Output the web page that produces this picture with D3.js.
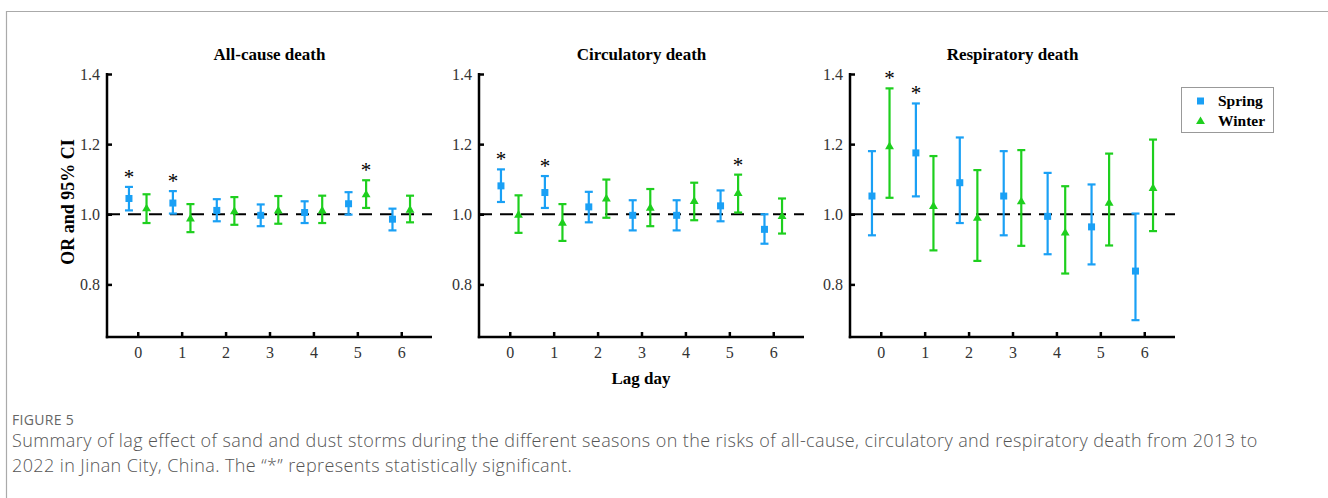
<!DOCTYPE html>
<html>
<head>
<meta charset="utf-8">
<script src="https://cdn.jsdelivr.net/npm/d3@7"></script>
<style>
  body { margin: 0; background: #fff; }
  svg { display: block; }
</style>
</head>
<body>
<script>
"use strict";

// lag days and panel titles
var lags = [0, 1, 2, 3, 4, 5, 6];
var panelTitles = ["All-cause death", "Circulatory death", "Respiratory death"];
var yTicks = [0.8, 1.0, 1.2, 1.4];

// OR, lower and upper 95% CI
var allSpringOR = [1.045, 1.032, 1.011, 0.997, 1.005, 1.030, 0.986];
var allSpringLo = [1.011, 1.002, 0.980, 0.966, 0.975, 0.999, 0.954];
var allSpringHi = [1.078, 1.066, 1.043, 1.028, 1.037, 1.063, 1.016];
var allWinterOR = [1.017, 0.988, 1.009, 1.011, 1.011, 1.057, 1.013];
var allWinterLo = [0.975, 0.949, 0.970, 0.973, 0.975, 1.018, 0.977];
var allWinterHi = [1.057, 1.029, 1.049, 1.052, 1.053, 1.097, 1.053];

var cirSpringOR = [1.081, 1.062, 1.021, 0.997, 0.997, 1.024, 0.957];
var cirSpringLo = [1.035, 1.018, 0.977, 0.954, 0.954, 0.980, 0.916];
var cirSpringHi = [1.128, 1.109, 1.064, 1.040, 1.040, 1.068, 1.000];
var cirWinterOR = [0.999, 0.976, 1.045, 1.019, 1.038, 1.061, 0.995];
var cirWinterLo = [0.947, 0.924, 0.990, 0.966, 0.983, 1.005, 0.945];
var cirWinterHi = [1.054, 1.029, 1.099, 1.072, 1.090, 1.113, 1.045];

var resSpringOR = [1.052, 1.175, 1.090, 1.052, 0.994, 0.964, 0.838];
var resSpringLo = [0.940, 1.051, 0.975, 0.940, 0.886, 0.857, 0.698];
var resSpringHi = [1.180, 1.316, 1.219, 1.180, 1.118, 1.085, 1.002];
var resWinterOR = [1.194, 1.024, 0.990, 1.037, 0.948, 1.033, 1.075];
var resWinterLo = [1.047, 0.897, 0.867, 0.910, 0.831, 0.911, 0.952];
var resWinterHi = [1.359, 1.166, 1.126, 1.183, 1.080, 1.173, 1.213];

// significant lags (marked with *)
var allSpringSig = [0, 1], allWinterSig = [5];
var cirSpringSig = [0, 1], cirWinterSig = [5];
var resSpringSig = [1], resWinterSig = [0];

var seriesNames = ["Spring", "Winter"];
var colors = {Spring: "#1aa0f5", Winter: "#1ecf1e"};

function rows(or, lo, hi, sig) {
  return lags.map(function(d, i) {
    return {lag: d, or: or[i], lo: lo[i], hi: hi[i], sig: sig.indexOf(d) >= 0};
  });
}

var panels = [
  {spring: rows(allSpringOR, allSpringLo, allSpringHi, allSpringSig),
   winter: rows(allWinterOR, allWinterLo, allWinterHi, allWinterSig)},
  {spring: rows(cirSpringOR, cirSpringLo, cirSpringHi, cirSpringSig),
   winter: rows(cirWinterOR, cirWinterLo, cirWinterHi, cirWinterSig)},
  {spring: rows(resSpringOR, resSpringLo, resSpringHi, resSpringSig),
   winter: rows(resWinterOR, resWinterLo, resWinterHi, resWinterSig)}
];

var W = 1328, H = 498;
var serif = "'Liberation Serif', 'Times New Roman', serif";

var svg = d3.select("body").append("svg")
    .attr("width", W)
    .attr("height", H);

// figure frame (top and left rules)
svg.append("path")
    .attr("d", "M6.5," + H + "V11.5H" + W)
    .attr("fill", "none")
    .attr("stroke", "#aaa")
    .attr("stroke-width", 1.2);

// panel geometry
var panelLeft = [107, 479, 850],
    panelWidth = 325,
    plotTop = 74,
    plotBottom = 337;

var yScale = d3.scaleLinear()
    .domain([0.65, 1.4])
    .range([plotBottom, plotTop]);

panels.forEach(function(p, k) {
  var g = svg.append("g")
      .attr("transform", "translate(" + panelLeft[k] + ",0)");

  var xScale = d3.scaleLinear()
      .domain([-0.7, 6.7])
      .range([0, panelWidth]);

  // title
  g.append("text")
      .attr("x", xScale(3))
      .attr("y", 60)
      .attr("text-anchor", "middle")
      .style("font-family", serif)
      .style("font-weight", "bold")
      .style("font-size", "17px")
      .text(panelTitles[k]);

  // reference line at OR = 1
  g.append("line")
      .attr("x1", 0)
      .attr("x2", panelWidth)
      .attr("y1", yScale(1))
      .attr("y2", yScale(1))
      .attr("stroke", "#000")
      .attr("stroke-width", 2)
      .attr("stroke-dasharray", "13,8");

  // axes
  var yAxis = d3.axisLeft(yScale)
      .tickValues(yTicks)
      .tickFormat(d3.format(".1f"))
      .tickSizeInner(-5)
      .tickSizeOuter(0)
      .tickPadding(7);
  var gY = g.append("g").call(yAxis);

  var xAxis = d3.axisBottom(xScale)
      .tickValues(lags)
      .tickSizeInner(-5)
      .tickSizeOuter(0)
      .tickPadding(10);
  var gX = g.append("g")
      .attr("transform", "translate(0," + plotBottom + ")")
      .call(xAxis);

  [gX, gY].forEach(function(a) {
    a.select(".domain").attr("stroke-width", 2.5);
    a.selectAll(".tick line").attr("stroke-width", 2.5);
    a.selectAll(".tick text")
        .style("font-family", serif)
        .style("font-size", "16px")
        .attr("fill", "#333");
  });
  gY.select(".domain").attr("d", "M0," + (plotTop - 1) + "V" + (plotBottom + 1.2));
  gX.select(".domain").attr("d", "M-1.2,0H" + panelWidth);

  // error bars
  [["spring", -0.2, "Spring"], ["winter", 0.2, "Winter"]].forEach(function(s) {
    var data = p[s[0]], off = s[1], col = colors[s[2]];
    var bars = g.append("g").selectAll("g")
        .data(data).enter().append("g")
        .attr("transform", function(d) { return "translate(" + xScale(d.lag + off) + ",0)"; });

    bars.append("line")
        .attr("y1", function(d) { return yScale(d.lo); })
        .attr("y2", function(d) { return yScale(d.hi); })
        .attr("stroke", col)
        .attr("stroke-width", 2.2);
    bars.selectAll(".cap")
        .data(function(d) { return [d.lo, d.hi]; })
        .enter().append("line")
        .attr("class", "cap")
        .attr("x1", -4).attr("x2", 4)
        .attr("y1", function(v) { return yScale(v); })
        .attr("y2", function(v) { return yScale(v); })
        .attr("stroke", col)
        .attr("stroke-width", 2.2);

    if (s[0] === "spring") {
      bars.append("rect")
          .attr("x", -3.5)
          .attr("y", function(d) { return yScale(d.or) - 3.5; })
          .attr("width", 7)
          .attr("height", 7)
          .attr("fill", col);
    } else {
      bars.append("path")
          .attr("d", d3.symbol(d3.symbolTriangle, 34))
          .attr("transform", function(d) { return "translate(0," + (yScale(d.or) + 0.5) + ")"; })
          .attr("fill", col);
    }

    bars.filter(function(d) { return d.sig; })
        .append("text")
        .attr("y", function(d) { return yScale(d.hi) - 3; })
        .attr("text-anchor", "middle")
        .style("font-family", serif)
        .style("font-size", "21px")
        .text("*");
  });
});

// y-axis label
svg.append("text")
    .attr("transform", "translate(74,202) rotate(-90)")
    .attr("text-anchor", "middle")
    .style("font-family", serif)
    .style("font-weight", "bold")
    .style("font-size", "18px")
    .text("OR and 95% CI");

// x-axis label
svg.append("text")
    .attr("x", 641)
    .attr("y", 384)
    .attr("text-anchor", "middle")
    .style("font-family", serif)
    .style("font-weight", "bold")
    .style("font-size", "17px")
    .text("Lag day");

// legend
var legend = svg.append("g").attr("transform", "translate(1181,87)");
legend.append("rect")
    .attr("x", 0.5).attr("y", 0.5)
    .attr("width", 92).attr("height", 45)
    .attr("fill", "#fff")
    .attr("stroke", "#999");
seriesNames.forEach(function(name, i) {
  var cy = 14 + i * 20;
  if (i === 0) {
    legend.append("rect")
        .attr("x", 16).attr("y", cy - 3.5)
        .attr("width", 7).attr("height", 7)
        .attr("fill", colors[name]);
  } else {
    legend.append("path")
        .attr("d", d3.symbol(d3.symbolTriangle, 34))
        .attr("transform", "translate(19.5," + (cy + 0.5) + ")")
        .attr("fill", colors[name]);
  }
  legend.append("text")
      .attr("x", 37)
      .attr("y", cy + 5)
      .style("font-family", serif)
      .style("font-weight", "bold")
      .style("font-size", "15.5px")
      .text(name);
});

// caption
svg.append("text")
    .attr("x", 12)
    .attr("y", 425)
    .attr("fill", "#666")
    .style("font-family", "'Open Sans', sans-serif")
    .style("font-size", "14px")
    .style("letter-spacing", "0.3px")
    .text("FIGURE 5");
var caption = [
  "Summary of lag effect of sand and dust storms during the different seasons on the risks of all-cause, circulatory and respiratory death from 2013 to",
  "2022 in Jinan City, China. The \u201c*\u201d represents statistically significant."
];
caption.forEach(function(line, i) {
  svg.append("text")
      .attr("x", 12)
      .attr("y", 447 + i * 25)
      .attr("fill", "#555")
      .style("font-family", "'Open Sans', sans-serif")
      .style("font-weight", 300)
      .style("font-size", "18px")
      .style("letter-spacing", "0.4px")
      .text(line);
});
</script>
</body>
</html>
